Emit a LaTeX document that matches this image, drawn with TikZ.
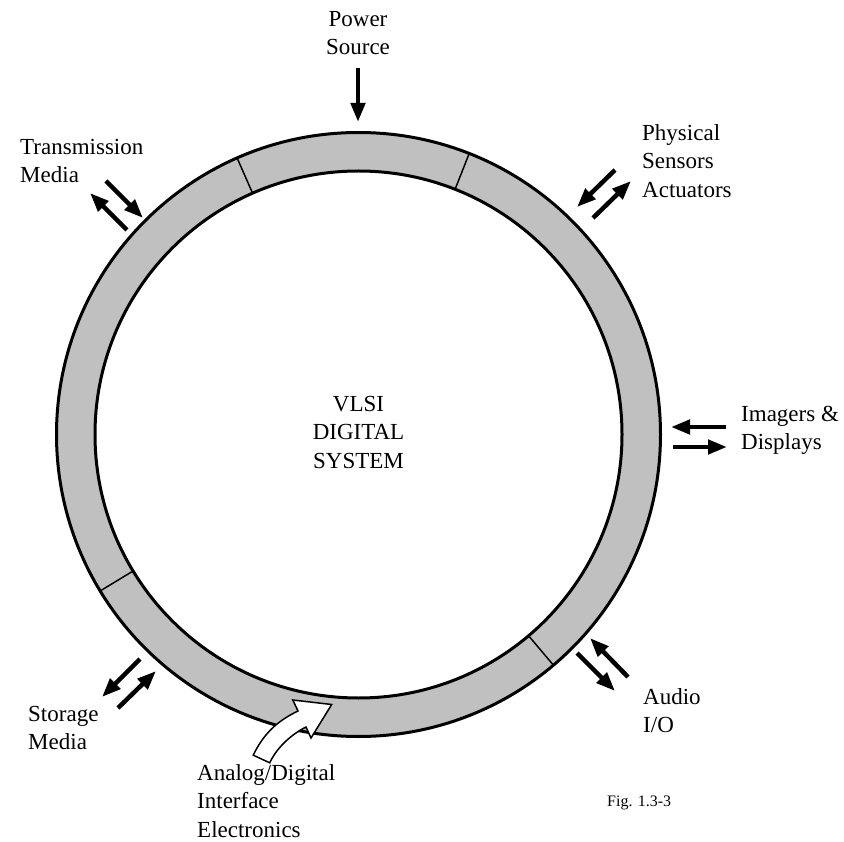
\documentclass[tikz,border=0pt]{standalone}
\usepackage{fontspec}
\setmainfont{Liberation Serif}
\usetikzlibrary{arrows.meta}
\definecolor{ringgray}{RGB}{192,192,192}
\begin{document}
\begin{tikzpicture}[x=1pt,y=-1pt,
  lbl/.style={font=\fontsize{23}{28.5}\selectfont, inner sep=0pt, align=left, anchor=north west},
  bar/.style={line width=4.5pt, -{Triangle[length=19pt,width=14pt]}},
  ringline/.style={line width=3pt},
  divider/.style={line width=1.5pt}
]
\useasboundingbox (0,0) rectangle (844,842);
\coordinate (c) at (358.5,434.5);
% ring
\fill[ringgray, even odd rule] (c) circle[radius=302pt] (c) circle[radius=263.5pt];
\draw[ringline] (c) circle[radius=302pt];
\draw[ringline] (c) circle[radius=263.5pt];
\foreach \a in {113.7,68.5,211.2,310.2}
  \draw[divider] (c) ++(\a:263.5pt) -- ++(\a:38.5pt);
% center text
\node[font=\fontsize{23}{28.5}\selectfont, align=center, inner sep=0pt] (vlsi) at (358.5,432) {VLSI\\DIGITAL\\SYSTEM};
% labels
\node[lbl, anchor=north, align=center] (power) at (358,11) {Power\\Source};
\node[lbl] (trans) at (20,139) {Transmission\\Media};
\node[lbl] (phys) at (642,124) {Physical\\Sensors\\Actuators};
\node[lbl] (imag) at (741,406) {Imagers \&\\Displays};
\node[lbl] (audio) at (643,688) {Audio\\I/O};
\node[lbl] (stor) at (28,706) {Storage\\Media};
\node[lbl] (adc) at (197,764) {Analog/Digital\\Interface\\Electronics};
\node[font=\fontsize{16}{19}\selectfont, inner sep=0pt, anchor=west] (fig) at (607,803) {Fig. 1.3-3};
% arrow end points
\coordinate (p1) at (358,68);  \coordinate (p2) at (358,122);
\coordinate (t1) at (106,181); \coordinate (t2) at (143,218);
\coordinate (t3) at (127,230); \coordinate (t4) at (90,193);
\coordinate (s1) at (615,170); \coordinate (s2) at (577,207);
\coordinate (s3) at (593,218); \coordinate (s4) at (631,181);
\coordinate (i1) at (726,427); \coordinate (i2) at (671,427);
\coordinate (i3) at (673,447); \coordinate (i4) at (727,447);
\coordinate (a1) at (628,677); \coordinate (a2) at (590,638);
\coordinate (a3) at (577,653); \coordinate (a4) at (615,691);
\coordinate (m1) at (140,659); \coordinate (m2) at (102,697);
\coordinate (m3) at (118,708); \coordinate (m4) at (156,671);
\draw[bar] (p1) -- (p2);
\draw[bar] (t1) -- (t2);
\draw[bar] (t3) -- (t4);
\draw[bar] (s1) -- (s2);
\draw[bar] (s3) -- (s4);
\draw[bar] (i1) -- (i2);
\draw[bar] (i3) -- (i4);
\draw[bar] (a1) -- (a2);
\draw[bar] (a3) -- (a4);
\draw[bar] (m1) -- (m2);
\draw[bar] (m3) -- (m4);
% white curved arrow
\draw[line width=1.5pt, fill=white, line join=miter]
  (253.3,755.2) .. controls (265.1,729.8) and (282.7,718.4) .. (298,711)
  -- (292.8,700) -- (331.7,704.5) -- (311,738) -- (306,727)
  .. controls (295.2,732.3) and (278.2,744.7) .. (269.7,762.8) -- cycle;
\end{tikzpicture}
\end{document}
